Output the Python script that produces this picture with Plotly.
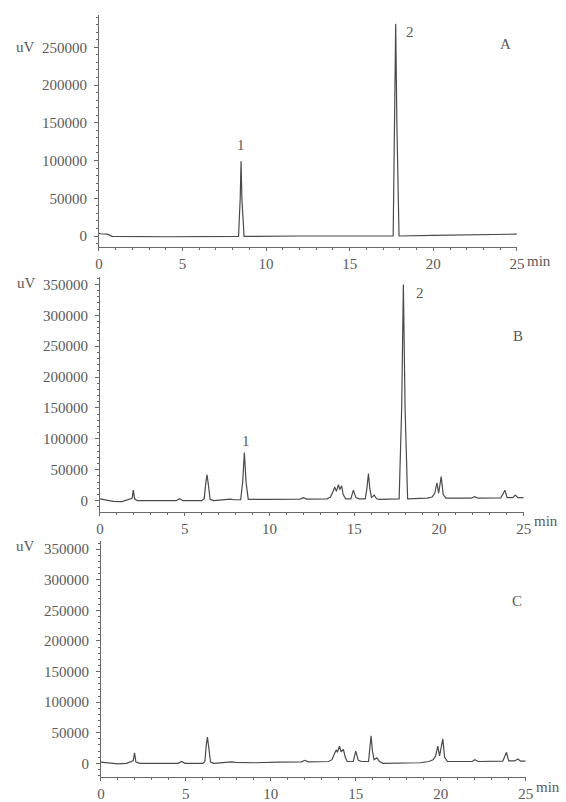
import plotly.graph_objects as go

# ---------------- data ----------------
# Panel A : standard solution
t_a = [0.0, 0.1, 0.5, 0.8, 4.0, 8.35, 8.45, 8.5, 8.55, 8.68, 12.0,
       17.6, 17.68, 17.75, 17.82, 17.95, 20.0, 25.0]
v_a = [3500, 3000, 2500, -500, -1000, -500, 50000, 99000, 50000, -500, 0,
       0, 150000, 281000, 150000, 0, 800, 2500]

# Panel B : sample
t_b = [0.0, 0.3, 0.8, 1.3, 1.6, 1.75, 1.9, 1.97, 2.05, 2.2, 4.5, 4.7, 4.9,
       6.0, 6.15, 6.25, 6.32, 6.4, 6.5, 6.7, 7.5, 7.7, 7.9, 8.3, 8.42, 8.52,
       8.62, 8.75, 10.0, 11.8, 12.0, 12.2, 13.4, 13.6, 13.75, 13.85, 13.95,
       14.07, 14.15, 14.26, 14.35, 14.5, 14.8, 14.95, 15.1, 15.3, 15.65,
       15.75, 15.84, 15.92, 16.02, 16.18, 16.32, 16.5, 17.65, 17.8, 17.9,
       18.0, 18.15, 19.3, 19.6, 19.75, 19.88, 19.98, 20.13, 20.25, 20.4,
       21.9, 22.1, 22.3, 23.65, 23.89, 24.02, 24.35, 24.5, 24.65, 25.0]
v_b = [3000, 1500, -1000, -1500, 1000, 2500, 4000, 17000, 3000, 0, 0, 3000,
       0, 0, 3000, 30000, 42000, 25000, 2000, 0, 1500, 2500, 1500, 1500,
       30000, 78000, 30000, 2000, 2000, 2500, 5000, 2500, 3000, 6000, 15000,
       22000, 15000, 26000, 18000, 24000, 10000, 3000, 3000, 17000, 5000,
       3000, 3000, 20000, 44000, 20000, 5000, 9000, 3000, 2000, 3000,
       150000, 350000, 150000, 3000, 4000, 6000, 12000, 29000, 12000, 39000,
       10000, 4000, 4000, 6500, 4000, 4500, 17000, 5000, 5000, 9000, 5000,
       5000]

# Panel C : negative control
t_c = [0.0, 0.5, 1.0, 1.5, 1.7, 1.9, 1.98, 2.06, 2.3, 4.55, 4.75, 4.95, 6.0,
       6.12, 6.2, 6.27, 6.35, 6.45, 6.65, 7.5, 7.7, 7.9, 9.0, 10.5, 11.8,
       12.0, 12.2, 13.4, 13.6, 13.75, 13.85, 13.92, 14.04, 14.14, 14.27,
       14.38, 14.5, 14.85, 15.0, 15.15, 15.35, 15.75, 15.82, 15.9, 15.98,
       16.08, 16.24, 16.4, 16.6, 18.8, 19.3, 19.55, 19.7, 19.83, 19.93,
       20.12, 20.23, 20.4, 21.85, 22.0, 22.2, 23.65, 23.87, 24.0, 24.35,
       24.54, 24.7, 25.0]
v_c = [2000, 1000, -1000, 0, 2500, 4000, 17000, 2000, 0, 0, 3000, 0, 0,
       3000, 30000, 43000, 25000, 2000, 0, 1500, 2500, 1500, 1000, 2000,
       2500, 5000, 2500, 3000, 6000, 16000, 22000, 18000, 28000, 19000,
       23000, 10000, 3000, 3000, 20000, 5000, 3000, 3000, 22000, 45000,
       20000, 6000, 9000, 3000, 0, 1000, 3000, 6000, 12000, 28000, 12000,
       40000, 10000, 3000, 3000, 6000, 3000, 3500, 18000, 4000, 4000, 7000,
       3500, 3500]

x_ticks = [0, 5, 10, 15, 20, 25]
x_ticklabels = ["0", "5", "10", "15", "20", "25"]
y_ticks_a = [0, 50000, 100000, 150000, 200000, 250000]
y_ticks_bc = [0, 50000, 100000, 150000, 200000, 250000, 300000, 350000]

panel_letters = ["A", "B", "C"]
peak_labels = ["1", "2"]

# ---------------- figure ----------------
W, H = 566, 802
FONT = "'Liberation Serif', 'Times New Roman', Times, serif"
FS = 15
TXT = "#5a5a5a"
LINE = "#4a4a4a"
AX = "#6a6a6a"


def px_x(p):
    return p / W


def px_y(p):
    return 1 - p / H


fig = go.Figure()
for i, (t, v) in enumerate([(t_a, v_a), (t_b, v_b), (t_c, v_c)]):
    suf = "" if i == 0 else str(i + 1)
    fig.add_trace(go.Scatter(x=t, y=v, mode="lines",
                             line=dict(color=LINE, width=1.2),
                             xaxis="x" + suf, yaxis="y" + suf,
                             showlegend=False, hoverinfo="skip"))

# panel geometry in pixels: (x_left, x_right, y_top, y_bottom, y_min, y_max)
panels = [
    (97, 524, 15, 250, -14400, 293000, y_ticks_a),
    (98, 531, 280, 518, -17600, 362800, y_ticks_bc),
    (99, 533, 548, 787, -22600, 363000, y_ticks_bc),
]

layout = dict(width=W, height=H, margin=dict(l=0, r=0, t=0, b=0),
              paper_bgcolor="white", plot_bgcolor="white",
              font=dict(family=FONT, size=FS, color=TXT))

for i, (xl, xr, yt, yb, ymin, ymax, yt_vals) in enumerate(panels):
    suf = "" if i == 0 else str(i + 1)
    layout["xaxis" + suf] = dict(
        domain=[px_x(xl), px_x(xr)], range=[0, 25], anchor="y" + suf,
        tickvals=x_ticks, ticktext=x_ticklabels,
        showline=True, linecolor=AX, linewidth=1,
        ticks="outside", ticklen=3, tickcolor=AX,
        minor=dict(dtick=1, ticks="outside", ticklen=2, tickcolor=AX),
        showgrid=False, zeroline=False,
        tickfont=dict(family=FONT, size=FS, color=TXT))
    layout["yaxis" + suf] = dict(
        domain=[px_y(yb), px_y(yt)], range=[ymin, ymax], anchor="x" + suf,
        tickvals=yt_vals, ticktext=[str(k) for k in yt_vals],
        showline=True, linecolor=AX, linewidth=1,
        ticks="outside", ticklen=4, tickcolor=AX, ticklabelstandoff=4,
        minor=dict(dtick=10000, ticks="outside", ticklen=2, tickcolor=AX),
        showgrid=False, zeroline=False,
        tickfont=dict(family=FONT, size=FS, color=TXT))

fig.update_layout(**layout)

ann = []
# "uV" unit labels
for (xp, yp) in [(22, 48), (23, 287), (22, 553)]:
    ann.append(dict(text="uV", x=px_x(xp), y=px_y(yp), xref="paper",
                    yref="paper", xanchor="center", yanchor="middle",
                    showarrow=False,
                    font=dict(family=FONT, size=FS, color=TXT)))
# "min" after the 25 tick label
for (xp, yp) in [(532, 264), (539, 528), (541, 797)]:
    ann.append(dict(text="min", x=px_x(xp), y=px_y(yp), xref="paper",
                    yref="paper", xanchor="left", yanchor="middle",
                    showarrow=False,
                    font=dict(family=FONT, size=FS, color=TXT)))
# panel letters
for i, (x, y) in enumerate([(24.3, 254000), (24.65, 267000), (24.5, 266000)]):
    suf = "" if i == 0 else str(i + 1)
    ann.append(dict(text=panel_letters[i], x=x, y=y, xref="x" + suf,
                    yref="y" + suf, showarrow=False,
                    font=dict(family=FONT, size=FS, color=TXT)))
# peak labels
for (lab, x, y, suf) in [(peak_labels[0], 8.5, 120000, ""),
                         (peak_labels[1], 18.6, 270000, ""),
                         (peak_labels[0], 8.6, 97000, "2"),
                         (peak_labels[1], 18.9, 336000, "2")]:
    ann.append(dict(text=lab, x=x, y=y, xref="x" + suf, yref="y" + suf,
                    showarrow=False,
                    font=dict(family=FONT, size=FS, color=TXT)))
fig.update_layout(annotations=ann)

# pin the page to exactly the window size (no default body margin)
post = """
var h=document.documentElement, b=document.body;
h.style.margin='0'; h.style.padding='0'; h.style.overflow='hidden';
b.style.margin='0'; b.style.padding='0'; b.style.overflow='hidden';
"""
fig.write_html("out.html", config={"displayModeBar": False},
               post_script=post)
